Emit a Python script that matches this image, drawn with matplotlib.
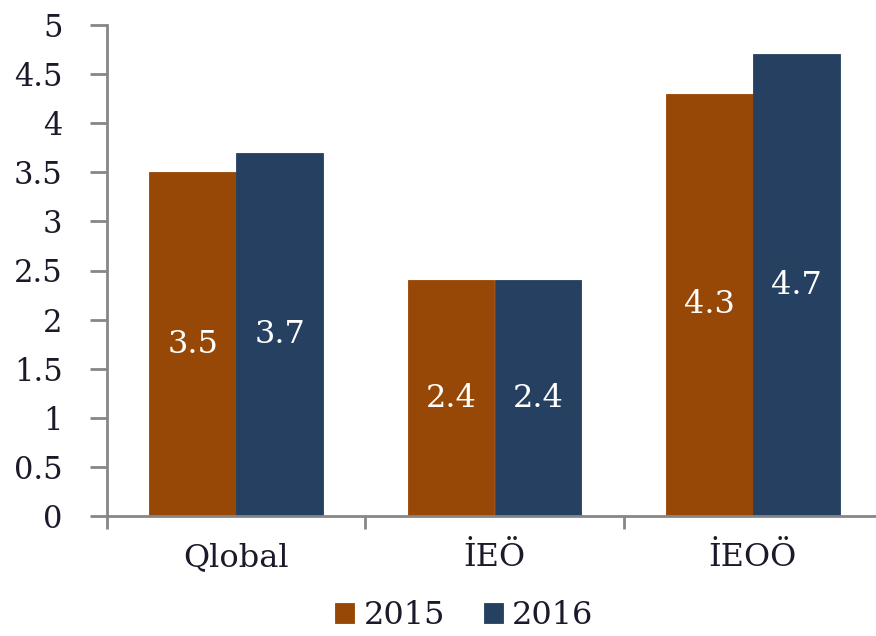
import matplotlib.pyplot as plt
import numpy as np

categories = ['Qlobal', 'İEÖ', 'İEOÖ']
years = ['2015', '2016']
values_2015 = [3.5, 2.4, 4.3]
values_2016 = [3.7, 2.4, 4.7]
colors = ['#974706', '#254061']

plt.rcParams['font.family'] = ['DejaVu Serif']

fig = plt.figure(figsize=(8.76, 6.36), dpi=100)
ax = fig.add_axes([107 / 876, 120 / 636, 775 / 876, 491 / 636])

x = np.arange(len(categories))
w = 0.336
bars1 = ax.bar(x - w / 2, values_2015, w, color=colors[0], label=years[0],
               edgecolor=colors[0], linewidth=0.6)
bars2 = ax.bar(x + w / 2, values_2016, w, color=colors[1], label=years[1],
               edgecolor=colors[1], linewidth=0.6)

for bars in (bars1, bars2):
    for b in bars:
        h = b.get_height()
        ax.text(b.get_x() + b.get_width() / 2, h / 2, f'{h:g}',
                ha='center', va='center', color='white', fontsize=23)

ax.set_xlim(-0.5, 2.5)
ax.set_ylim(0, 5)
ax.set_yticks(np.arange(0, 5.01, 0.5))
ax.set_yticklabels([f'{v:g}' for v in np.arange(0, 5.01, 0.5)])
ax.set_xticks(x)
ax.set_xticklabels(categories)
ax.set_xticks([-0.5, 0.5, 1.5, 2.5], minor=True)

for s in ['top', 'right']:
    ax.spines[s].set_visible(False)
for s in ['left', 'bottom']:
    ax.spines[s].set_color('#868686')
    ax.spines[s].set_linewidth(2)

ax.tick_params(axis='y', length=12, width=2, color='#868686',
               labelsize=22, labelcolor='#1a1a2a', pad=20)
ax.tick_params(axis='x', which='major', length=0, labelsize=23,
               labelcolor='#1a1a2a', pad=19)
ax.tick_params(axis='x', which='minor', length=9, width=2, color='#868686')

fig.legend(loc='lower center', bbox_to_anchor=(0.53, -0.038), ncol=2,
           frameon=False, fontsize=23, handlelength=0.6, handleheight=0.6,
           handletextpad=0.3, columnspacing=1.2, labelcolor='#1a1a2a')

fig.savefig('out.png', dpi=100)
